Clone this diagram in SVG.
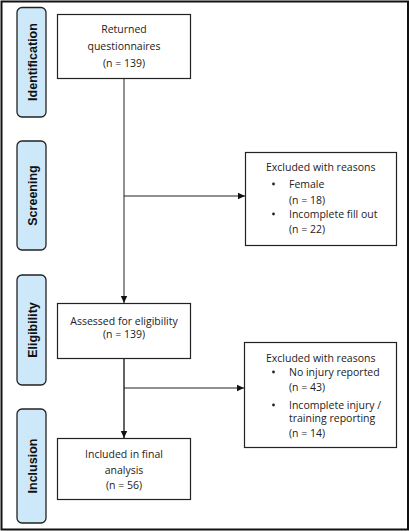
<svg xmlns="http://www.w3.org/2000/svg" width="409" height="531" viewBox="0 0 409 531">
<defs>
<marker id="ah" markerWidth="8" markerHeight="8" refX="7" refY="4" orient="auto" markerUnits="userSpaceOnUse">
<path d="M0,0.8 L7,4 L0,7.2 Z" fill="#111"/>
</marker>
<style>
.frame{fill:#fff;stroke:#111;stroke-width:2}
.phase{fill:#cde9f9;stroke:#222;stroke-width:1.3}
.ptxt{font-family:"Liberation Sans",Arial,sans-serif;font-weight:bold;font-size:12.5px;fill:#111;text-anchor:middle}
.box{fill:#fff;stroke:#222;stroke-width:1.2}
.t{font-family:"Open Sans","Liberation Sans",sans-serif;font-size:10.5px;fill:#222}
.c{text-anchor:middle}
.ln{fill:none;stroke:#222;stroke-width:1}
</style>
</defs>
<rect class="frame" x="1.5" y="1.5" width="406.5" height="528"/>

<g id="phase-identification">
<rect class="phase" x="17" y="7.5" width="29" height="109.5" rx="5"/>
<text class="ptxt" transform="translate(36.5,62) rotate(-90)">Identification</text>
</g>
<g id="phase-screening">
<rect class="phase" x="17" y="141" width="29" height="109" rx="5"/>
<text class="ptxt" transform="translate(36.5,195.5) rotate(-90)">Screening</text>
</g>
<g id="phase-eligibility">
<rect class="phase" x="17" y="275" width="29" height="110" rx="5"/>
<text class="ptxt" transform="translate(36.5,330) rotate(-90)">Eligibility</text>
</g>
<g id="phase-inclusion">
<rect class="phase" x="17" y="409" width="29" height="114" rx="5"/>
<text class="ptxt" transform="translate(36.5,466) rotate(-90)">Inclusion</text>
</g>

<g id="connectors">
<line class="ln" x1="124" y1="78" x2="124" y2="303" marker-end="url(#ah)"/>
<line class="ln" x1="124" y1="196" x2="245" y2="196" marker-end="url(#ah)"/>
<line class="ln" x1="124" y1="359" x2="124" y2="438" marker-end="url(#ah)" style="stroke-width:1.4"/>
<line class="ln" x1="124" y1="388" x2="244" y2="388" marker-end="url(#ah)"/>
</g>

<g id="returned">
<rect class="box" x="57.5" y="14.5" width="133" height="64"/>
<text class="t c" x="124" y="32.5">Returned</text>
<text class="t c" x="124" y="49.5">questionnaires</text>
<text class="t c" x="124" y="66.5">(n = 139)</text>
</g>

<g id="excluded1">
<rect class="box" x="245.5" y="152.5" width="151" height="93"/>
<text class="t" x="266" y="171">Excluded with reasons</text>
<circle cx="273.5" cy="184" r="1.4" fill="#222"/>
<text class="t" x="289" y="188">Female</text>
<text class="t" x="289" y="204">(n = 18)</text>
<circle cx="273.5" cy="214" r="1.4" fill="#222"/>
<text class="t" x="289" y="218">Incomplete fill out</text>
<text class="t" x="289" y="233">(n = 22)</text>
</g>

<g id="assessed">
<rect class="box" x="57.5" y="303.5" width="133" height="55"/>
<text class="t c" x="124" y="325">Assessed for eligibility</text>
<text class="t c" x="124" y="337.5">(n = 139)</text>
</g>

<g id="excluded2">
<rect class="box" x="244.5" y="342.5" width="152" height="105"/>
<text class="t" x="266" y="362">Excluded with reasons</text>
<circle cx="273.5" cy="372" r="1.4" fill="#222"/>
<text class="t" x="289" y="376">No injury reported</text>
<text class="t" x="289" y="391">(n = 43)</text>
<circle cx="273.5" cy="405" r="1.4" fill="#222"/>
<text class="t" x="289" y="409">Incomplete injury /</text>
<text class="t" x="289" y="422">training reporting</text>
<text class="t" x="289" y="437">(n = 14)</text>
</g>

<g id="included">
<rect class="box" x="57.5" y="438.5" width="133" height="61"/>
<text class="t c" x="124" y="458">Included in final</text>
<text class="t c" x="124" y="474">analysis</text>
<text class="t c" x="124" y="489">(n = 56)</text>
</g>
</svg>
